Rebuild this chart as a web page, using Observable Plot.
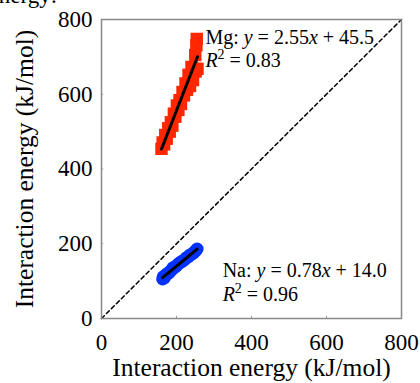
<!DOCTYPE html>
<html>
<head>
<meta charset="utf-8">
<script src="https://cdn.jsdelivr.net/npm/d3@7"></script>
<script src="https://cdn.jsdelivr.net/npm/@observablehq/plot@0.6"></script>
<style>
  html, body { margin: 0; padding: 0; background: white; overflow: hidden; }
  #chart { width: 420px; height: 383px; }
</style>
</head>
<body>
<div id="chart"></div>
<script>
// Mg: red squares
const mgX = [160, 163, 167, 170, 174, 178, 182, 185, 189, 193, 197, 201, 205, 208, 212, 216, 220, 224, 228, 232, 236, 240, 244, 248, 251, 250, 253, 254, 256];
const mgY = [454, 471, 466, 491, 481, 509, 500, 525, 516, 548, 540, 570, 558, 584, 574, 606, 597, 629, 612, 652, 622, 673, 638, 668, 661, 705, 731, 748, 668];
// Na: blue circles
const naX = [163, 165, 168, 171, 175, 179, 183, 187, 191, 195, 200, 205, 210, 215, 220, 226, 231, 236, 241, 246, 251, 255];
const naY = [106, 112, 109, 116, 120, 121, 126, 130, 136, 137, 141, 146, 150, 153, 156, 162, 165, 170, 172, 176, 181, 186];
const xTicks = [0, 200, 400, 600, 800];
const yTicks = [0, 200, 400, 600, 800];
const diagonal = [0, 800];
const axisLabel = "Interaction energy (kJ/mol)";
const mgLabel1 = "Mg: y = 2.55x + 45.5";
const mgLabel2 = "R2 = 0.83";
const naLabel1 = "Na: y = 0.78x + 14.0";
const naLabel2 = "R2 = 0.96";
const heading = "ation energy:";

const mg = mgX.map((x, i) => ({x, y: mgY[i]}));
const na = naX.map((x, i) => ({x, y: naY[i]}));

const RED = "#ff2600", BLUE = "#0433ff";

const plot = Plot.plot({
  width: 420,
  height: 383,
  marginLeft: 101,
  marginRight: 19,
  marginTop: 19,
  marginBottom: 65,
  style: {fontFamily: "Liberation Serif", fontSize: "23px", color: "black", background: "white", overflow: "visible"},
  x: {domain: [0, 800]},
  y: {domain: [0, 800]},
  marks: [
    Plot.axisX({ticks: xTicks, tickSize: 0, tickPadding: 15, fontSize: 23, label: null}),
    Plot.axisY({ticks: yTicks, tickSize: 0, tickPadding: 9, fontSize: 23, label: null}),
    Plot.text([axisLabel], {frameAnchor: "bottom", text: d => d, dy: 57, lineAnchor: "bottom", textAnchor: "middle", fontSize: 25.5}),
    Plot.text([axisLabel], {frameAnchor: "left", text: d => d, dx: -87, rotate: -90, lineAnchor: "top", textAnchor: "middle", fontSize: 25.5}),
    Plot.ruleX(xTicks, {x: d => d, y1: 0, y2: 6, stroke: "#999", strokeWidth: 1}),
    Plot.ruleY(yTicks, {y: d => d, x1: 0, x2: 6, stroke: "#999", strokeWidth: 1}),
    Plot.line(diagonal, {x: d => d, y: d => d, stroke: "black", strokeWidth: 1.5, strokeDasharray: "4,3"}),
    Plot.dot(mg, {x: "x", y: "y", symbol: "square", r: 7, fill: RED, stroke: "none"}),
    Plot.linearRegressionY(mg, {x: "x", y: "y", stroke: "black", strokeWidth: 3, ci: 0}),
    Plot.dot(na, {x: "x", y: "y", symbol: "circle", r: 6.5, fill: BLUE, stroke: "none"}),
    Plot.linearRegressionY(na, {x: "x", y: "y", stroke: "black", strokeWidth: 3, ci: 0}),
    Plot.frame({stroke: "#888", strokeWidth: 1.5}),
    Plot.text([mgLabel1], {x: 277, y: 735, text: d => d, textAnchor: "start", lineAnchor: "bottom", fontSize: 20}),
    Plot.text([mgLabel2], {x: 277, y: 673, text: d => d, textAnchor: "start", lineAnchor: "bottom", fontSize: 20}),
    Plot.text([naLabel1], {x: 323, y: 112, text: d => d, textAnchor: "start", lineAnchor: "bottom", fontSize: 20}),
    Plot.text([naLabel2], {x: 323, y: 46, text: d => d, textAnchor: "start", lineAnchor: "bottom", fontSize: 20})
  ]
});

// Rich text: italic variables and superscript
const rich = {};
function eq(label) {
  const m = label.match(/^(\w+: )y( = [\d.]+)x( \+ [\d.]+)$/);
  return [{t: m[1]}, {t: "y", i: true}, {t: m[2]}, {t: "x", i: true}, {t: m[3]}];
}
function r2(label) {
  return [{t: "R", i: true}, {t: "2", sup: true}, {t: label.slice(2), after: true}];
}
rich[mgLabel1] = eq(mgLabel1);
rich[naLabel1] = eq(naLabel1);
rich[mgLabel2] = r2(mgLabel2);
rich[naLabel2] = r2(naLabel2);

d3.select(plot).selectAll("text").each(function() {
  const s = this.textContent;
  if (!rich[s]) return;
  const el = d3.select(this);
  el.text(null);
  for (const seg of rich[s]) {
    const ts = el.append("tspan").text(seg.t);
    if (seg.i) ts.attr("font-style", "italic");
    if (seg.sup) ts.attr("font-size", "14px").attr("dy", "-8");
    if (seg.after) ts.attr("dy", "8");
  }
});

// Partially visible heading cut at top of the picture
d3.select(plot).append("text")
  .attr("x", -3).attr("y", 3)
  .attr("font-family", "Liberation Serif").attr("font-size", 23)
  .attr("fill", "black")
  .text(heading);

document.getElementById("chart").append(plot);
</script>
</body>
</html>
